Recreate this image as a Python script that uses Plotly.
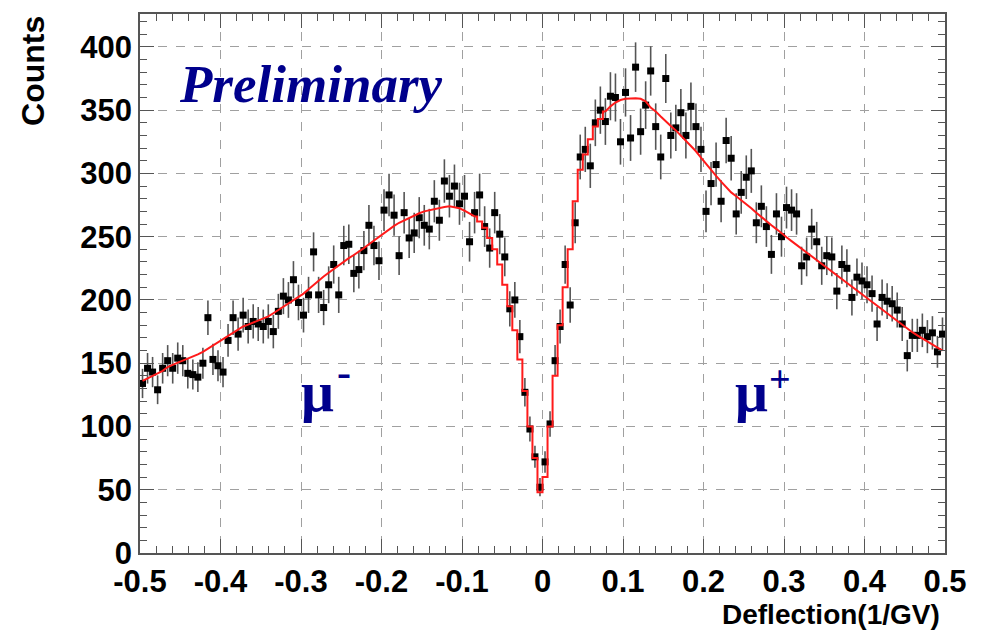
import plotly.graph_objs as go

# Histogram binning: 160 bins from -0.5 to 0.5
bin_start = -0.5
bin_width = 0.00625

# Counts per bin
counts = [134, 146, 143, 129, 146, 152, 146, 154, 152, 142,
          141, 139, 150, 186, 153, 148, 143, 168, 186, 173,
          188, 179, 183, 181, 179, 183, 175, 191, 203, 200,
          216, 198, 188, 204, 238, 204, 194, 212, 228, 204,
          243, 244, 221, 224, 239, 259, 243, 231, 271, 283,
          267, 235, 269, 249, 253, 265, 259, 256, 278, 263,
          294, 282, 290, 276, 282, 246, 269, 283, 258, 241,
          269, 252, 234, 193, 200, 171, 127, 98, 76, 52,
          72, 102, 152, 179, 228, 196, 261, 313, 319, 306,
          340, 350, 341, 361, 360, 325, 364, 328, 384, 333,
          354, 381, 337, 313, 375, 330, 336, 348, 330, 353,
          337, 319, 270, 292, 307, 278, 326, 312, 268, 285,
          297, 302, 261, 274, 258, 236, 268, 250, 273, 271,
          268, 227, 234, 256, 246, 227, 235, 234, 207, 228,
          225, 202, 218, 215, 212, 205, 181, 202, 199, 197,
          192, 181, 156, 172, 172, 176, 171, 174, 159, 173]

# Fit function evaluated per bin (red curve)
fit = [136, 138, 140, 142, 144, 147, 149, 150.5, 152, 153.5,
       155, 157, 159, 161.5, 164, 166.5, 169, 171.5, 174.5, 177,
       179, 180.5, 182, 184, 185.5, 187, 189.5, 192, 194.5, 197,
       199.5, 202, 205, 208.5, 212, 215, 218.5, 221.5, 224.5, 227,
       230, 233, 235.5, 238, 241, 244, 247, 250, 252.5, 255.5,
       258.5, 261, 263, 265, 267, 268.5, 270, 271, 272, 273,
       273.5, 274, 273.5, 272.5, 270.5, 268.5, 266, 262, 257, 249,
       240, 228, 212, 195, 176, 153, 128, 100, 75, 48,
       60, 100, 140, 180, 210, 240, 278, 303, 315, 327,
       337, 343, 349, 353, 356, 358, 359, 359.5, 359.5, 359,
       357, 352, 349, 345, 341, 337.5, 334, 330, 326, 322,
       317.5, 312.5, 307.5, 302.5, 298, 293.5, 289, 285, 282, 279,
       276, 272.5, 269, 265.5, 262, 259, 256, 252.5, 249.5, 246.5,
       243.5, 240, 237, 234, 231, 228, 225, 222, 219, 216,
       213, 210, 207, 204, 201, 198, 195, 192, 189, 186,
       183, 180.5, 177, 174.5, 172, 169.5, 167, 164.5, 162.5, 160]

# the fit is drawn smooth on the wings, stepped through the dip
dip_first = 66
dip_last = 92

x_ticks = [-0.5, -0.4, -0.3, -0.2, -0.1, 0, 0.1, 0.2, 0.3, 0.4, 0.5]
x_ticklabels = ['-0.5', '-0.4', '-0.3', '-0.2', '-0.1', '0', '0.1', '0.2', '0.3', '0.4', '0.5']
y_ticks = [0, 50, 100, 150, 200, 250, 300, 350, 400]

navy = '#00008c'
red = '#ff1a1a'
first_center = bin_start + bin_width / 2

data = []

data.append(go.Scatter(
    y=counts,
    x0=first_center,
    dx=bin_width,
    mode='markers',
    marker=dict(symbol='square', size=7, color='black'),
    error_y=dict(type='sqrt', color='#555555', thickness=1.6, width=0),
))

fit_parts = [
    (0, dip_first, 'linear'),
    (dip_first, dip_last, 'hvh'),
    (dip_last, len(fit) - 1, 'linear'),
]
for lo, hi, shape in fit_parts:
    data.append(go.Scatter(
        y=fit[lo:hi + 1],
        x0=first_center + lo * bin_width,
        dx=bin_width,
        mode='lines',
        line=dict(color=red, width=2, shape=shape),
    ))

tickfont = dict(family='Liberation Sans, Arial', size=31, color='black', weight='bold')
serif = 'Liberation Serif, Times New Roman'


def label(text, x, y, size):
    return dict(text=text, xref='paper', yref='paper', x=x, y=y,
                xanchor='center', yanchor='middle', showarrow=False,
                font=dict(family=serif, size=size, color=navy, weight='bold'))


layout = go.Layout(
    width=966,
    height=626,
    margin=dict(l=132, r=29, t=4, b=81),
    paper_bgcolor='white',
    plot_bgcolor='white',
    showlegend=False,
    xaxis=dict(
        range=[-0.5, 0.5],
        tickvals=x_ticks,
        ticktext=x_ticklabels,
        tickfont=tickfont,
        ticks='inside',
        ticklen=14,
        tickcolor='#555555',
        minor=dict(dtick=0.02, ticks='inside', ticklen=7, tickcolor='#555555', showgrid=False),
        showgrid=True,
        gridcolor='#a0a0a0',
        griddash='dash',
        gridwidth=1,
        zeroline=False,
        showline=True,
        linecolor='#555555',
        linewidth=1.5,
        mirror='ticks',
    ),
    yaxis=dict(
        range=[0, 426],
        tickvals=y_ticks,
        tickfont=tickfont,
        ticks='inside',
        ticklen=14,
        tickcolor='#555555',
        minor=dict(dtick=10, ticks='inside', ticklen=7, tickcolor='#555555', showgrid=False),
        showgrid=True,
        gridcolor='#a0a0a0',
        griddash='dash',
        gridwidth=1,
        zeroline=False,
        showline=True,
        linecolor='#555555',
        linewidth=1.5,
        mirror='ticks',
    ),
    annotations=[
        dict(text='Counts', xref='paper', yref='paper', x=-0.133, y=1.0,
             xanchor='center', yanchor='top', textangle=-90, showarrow=False,
             font=dict(family='Liberation Sans, Arial', size=32, color='black', weight='bold')),
        dict(text='Deflection(1/GV)', xref='paper', yref='paper', x=0.996, y=-0.081,
             xanchor='right', yanchor='top', showarrow=False,
             font=dict(family='Liberation Sans, Arial', size=28, color='black', weight='bold')),
        dict(text='<b><i>Preliminary</i></b>', xref='paper', yref='paper', x=0.213, y=0.87,
             xanchor='center', yanchor='middle', showarrow=False,
             font=dict(family=serif, size=53, color=navy)),
        label('\u03bc', 0.221, 0.30, 58),
        label('-', 0.254, 0.335, 42),
        label('\u03bc', 0.760, 0.30, 58),
        label('+', 0.795, 0.322, 38),
    ],
)

fig = go.Figure(data=data, layout=layout)
fig.write_html("out.html")
